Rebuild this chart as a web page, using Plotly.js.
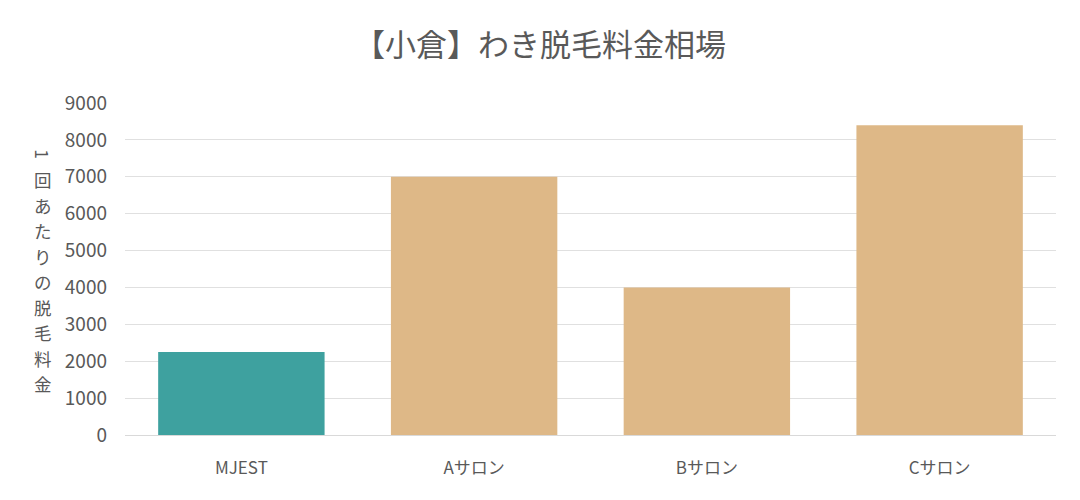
<!DOCTYPE html>
<html><head><meta charset="utf-8">
<script src="https://cdn.plot.ly/plotly-3.0.1.min.js"></script>
<style>body{margin:0}#c{width:1080px;height:500px}</style>
</head><body><div id="c"></div>
<script>
const categories = ["MJEST", "Aサロン", "Bサロン", "Cサロン"];
const values = [2250, 7000, 4000, 8400];
const barColors = ["#3ea19f", "#deb887", "#deb887", "#deb887"];
const yTitle = "1回あたりの脱毛料金";
const titleText = "【小倉】わき脱毛料金相場";
const font = "'Noto Sans CJK JP', 'Noto Sans', sans-serif";

const chars = yTitle.split("");
const step = 25.5;
const titleAnns = chars.map((ch, i) => ({
  text: ch, xref: "paper", yref: "paper", x: -0.088, y: 0.5,
  yshift: ((chars.length - 1) / 2 - i) * step,
  textangle: /[0-9A-Za-z]/.test(ch) ? 90 : 0,
  xanchor: "center", yanchor: "middle", showarrow: false,
  font: {size: 17.5, color: "#595959"}
}));

Plotly.newPlot("c", [{
  type: "bar", x: categories, y: values,
  marker: {color: barColors}, hoverinfo: "none"
}], {
  width: 1080, height: 500,
  margin: {l: 125, r: 24, t: 103, b: 65},
  paper_bgcolor: "#fff", plot_bgcolor: "#fff",
  bargap: 0.285,
  font: {family: font, color: "#595959"},
  title: {text: titleText, x: 0.5, xanchor: "center", y: 0.91, yanchor: "middle",
          font: {size: 31, color: "#595959", family: font}},
  xaxis: {tickfont: {size: 17, color: "#595959"}, showline: true, linecolor: "#d9d9d9",
          ticks: "", ticklabelstandoff: 18},
  yaxis: {range: [0, 9000], dtick: 1000, gridcolor: "#e0e0e0", zeroline: false,
          tickfont: {size: 19, color: "#595959"}, ticks: "", ticklabelstandoff: 17},
  annotations: titleAnns
}, {displayModeBar: false, staticPlot: true});
</script></body></html>
